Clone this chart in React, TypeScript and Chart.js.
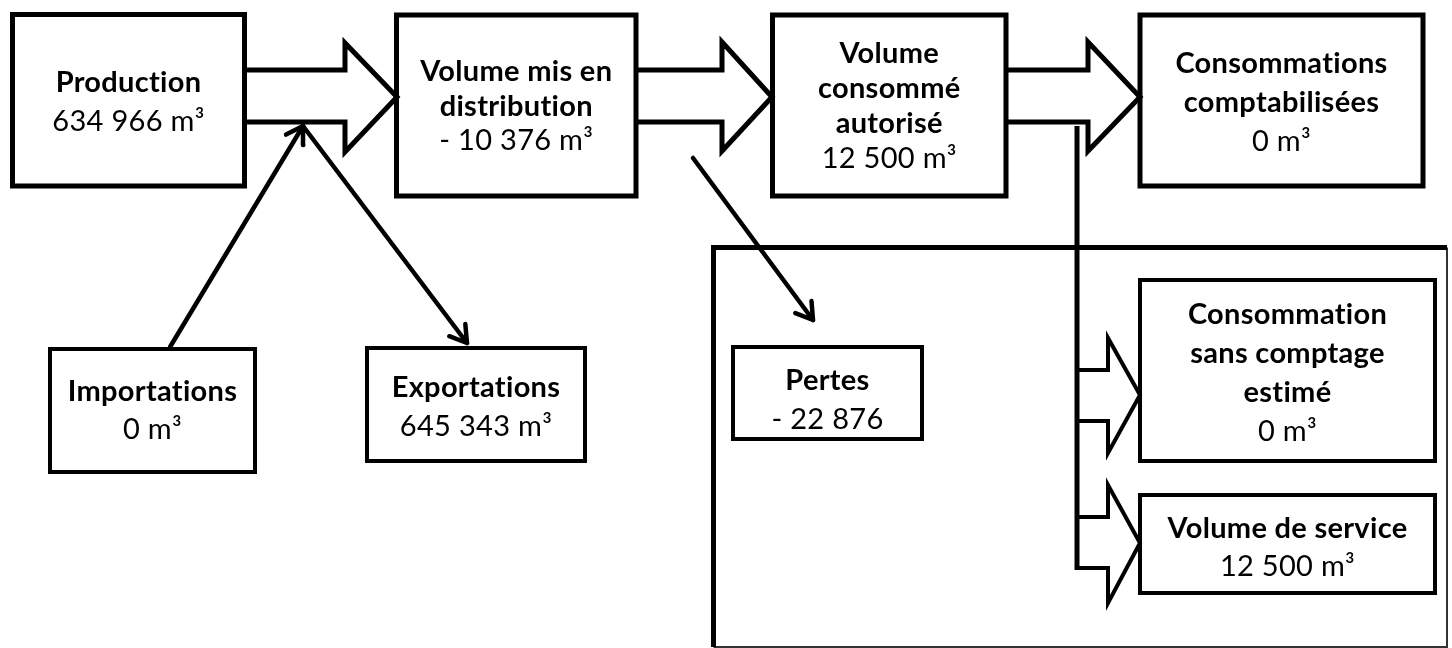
import { useEffect, useRef } from "react";
import { Chart, registerables } from "chart.js";

Chart.register(...registerables);

// ---- Data ----
const nodeTitles: string[][] = [
  ["Production"],
  ["Volume mis en", "distribution"],
  ["Volume", "consommé", "autorisé"],
  ["Consommations", "comptabilisées"],
  ["Consommation", "sans comptage", "estimé"],
  ["Volume de service"],
  ["Pertes"],
  ["Importations"],
  ["Exportations"],
];
const nodeValues: number[] = [634966, -10376, 12500, 0, 0, 12500, -22876, 0, 645343];
const nodeUnits: string[] = ["m³", "m³", "m³", "m³", "m³", "m³", "", "m³", "m³"];

// ---- Layout (diagram coordinates, mapped through the chart scales) ----
const W = 1452;
const H = 648;
type Box = { x0: number; y0: number; x1: number; y1: number; lw: number; cy: number; lh: number };
const boxLayout: Box[] = [
  { x0: 12.5, y0: 14.5, x1: 244.5, y1: 186, lw: 5, cy: 101.5, lh: 39 },
  { x0: 396.5, y0: 15, x1: 636, y1: 196, lw: 5, cy: 105.5, lh: 34.5 },
  { x0: 772.5, y0: 15, x1: 1006, y1: 196, lw: 5, cy: 105.5, lh: 35 },
  { x0: 1140, y0: 15, x1: 1423, y1: 186, lw: 5, cy: 102, lh: 39 },
  { x0: 1140, y0: 280, x1: 1435, y1: 461, lw: 4, cy: 372.5, lh: 39 },
  { x0: 1140, y0: 495, x1: 1435, y1: 593, lw: 4, cy: 547, lh: 38.5 },
  { x0: 733, y0: 347, x1: 922, y1: 439, lw: 4, cy: 399.5, lh: 39 },
  { x0: 50, y0: 349, x1: 255, y1: 472, lw: 4, cy: 410, lh: 38 },
  { x0: 367, y0: 348, x1: 585, y1: 461, lw: 4, cy: 406.5, lh: 38.5 },
];

type BigArrow = { x0: number; xh: number; tip: number; yc: number; st: number; sb: number; ht: number; hb: number; lw: number };
const bigArrows: BigArrow[] = [
  { x0: 245, xh: 345, tip: 397, yc: 97, st: 70, sb: 122, ht: 43, hb: 152, lw: 5 },
  { x0: 636, xh: 722, tip: 772, yc: 97, st: 70, sb: 122, ht: 42, hb: 151, lw: 5 },
  { x0: 1006, xh: 1088, tip: 1140, yc: 97, st: 70, sb: 122, ht: 42, hb: 151, lw: 5 },
  { x0: 1077, xh: 1108, tip: 1140, yc: 395, st: 370, sb: 421, ht: 338, hb: 453, lw: 4 },
  { x0: 1077, xh: 1108, tip: 1140, yc: 543, st: 517, sb: 568, ht: 485, hb: 603, lw: 4 },
];

const connector: [number, number][] = [[1077, 126], [1077, 570]];

const thinArrows: { from: [number, number]; to: [number, number] }[] = [
  { from: [170, 347], to: [303, 126] },
  { from: [303, 126], to: [467, 343] },
  { from: [693, 158], to: [813, 320] },
];

function fmt(v: number, unit: string): string {
  const abs = Math.abs(v).toString().replace(/\B(?=(\d{3})+(?!\d))/g, " ");
  return (v < 0 ? "- " : "") + abs + (unit ? " " + unit : "");
}

function lineDs(pts: [number, number][], w: number, color = "#000", join = "miter", cap = "butt") {
  return {
    data: pts.map(([x, y]) => ({ x, y })),
    showLine: true,
    borderColor: color,
    backgroundColor: color,
    borderWidth: w,
    pointRadius: 0,
    pointHoverRadius: 0,
    fill: false,
    tension: 0,
    borderJoinStyle: join,
    borderCapStyle: cap,
    clip: false,
  } as any;
}

function buildDatasets() {
  const ds: any[] = [];
  // outer frame
  ds.push(lineDs([[713.5, 647], [713.5, 247.5], [1447, 247.5]], 5));
  ds.push(lineDs([[1447, 247.5], [1447, 647], [713.5, 647]], 2, "#333"));
  // boxes
  boxLayout.forEach((b) => {
    ds.push(
      lineDs(
        [[b.x0, b.y0], [b.x1, b.y0], [b.x1, b.y1], [b.x0, b.y1], [b.x0, b.y0], [b.x1, b.y0]],
        b.lw
      )
    );
  });
  // block arrows
  bigArrows.forEach((a) => {
    ds.push(
      lineDs(
        [[a.x0, a.st], [a.xh, a.st], [a.xh, a.ht], [a.tip, a.yc], [a.xh, a.hb], [a.xh, a.sb], [a.x0, a.sb]],
        a.lw
      )
    );
  });
  ds.push(lineDs(connector, 5));
  // thin arrows
  thinArrows.forEach(({ from, to }) => {
    ds.push(lineDs([from, to], 4.5, "#000", "round", "round"));
    const ang = Math.atan2(to[1] - from[1], to[0] - from[0]);
    const len = 19;
    const spread = (32 * Math.PI) / 180;
    const w1: [number, number] = [to[0] - len * Math.cos(ang - spread), to[1] - len * Math.sin(ang - spread)];
    const w2: [number, number] = [to[0] - len * Math.cos(ang + spread), to[1] - len * Math.sin(ang + spread)];
    ds.push(lineDs([w1, to, w2], 4.5, "#000", "round", "round"));
  });
  return ds;
}

const textPlugin = {
  id: "boxText",
  afterDatasetsDraw(chart: any) {
    const { ctx, scales } = chart;
    const xs = scales.x;
    const ys = scales.y;
    ctx.save();
    ctx.fillStyle = "#000";
    ctx.textAlign = "center";
    ctx.textBaseline = "alphabetic";
    try {
      (ctx as any).letterSpacing = "0.3px";
    } catch (e) {
      /* ignore */
    }
    boxLayout.forEach((b, i) => {
      const lines = [...nodeTitles[i], fmt(nodeValues[i], nodeUnits[i])];
      const n = lines.length;
      const cx = (b.x0 + b.x1) / 2;
      lines.forEach((t, k) => {
        const capCenter = b.cy - ((n - 1) * b.lh) / 2 + k * b.lh;
        const isValue = k === n - 1;
        ctx.font = (isValue ? "400 " : "700 ") + "29px Lato";
        ctx.fillText(t, xs.getPixelForValue(cx), ys.getPixelForValue(capCenter + 10));
      });
    });
    ctx.restore();
  },
};

export default function App() {
  const ref = useRef<HTMLCanvasElement | null>(null);
  useEffect(() => {
    document.body.style.margin = "0";
    document.body.style.background = "#fff";
    if (!ref.current) return;
    const chart = new Chart(ref.current, {
      type: "scatter",
      data: { datasets: buildDatasets() },
      options: {
        animation: false,
        responsive: false,
        devicePixelRatio: 1,
        events: [],
        layout: { padding: 0 },
        plugins: { legend: { display: false }, tooltip: { enabled: false } },
        scales: {
          x: { type: "linear", min: 0, max: W, display: false },
          y: { type: "linear", min: 0, max: H, reverse: true, display: false },
        },
      },
      plugins: [textPlugin],
    });
    return () => chart.destroy();
  }, []);
  return (
    <div style={{ position: "fixed", left: 0, top: 0, width: W, height: H, background: "#fff" }}>
      <canvas ref={ref} width={W} height={H} style={{ display: "block" }} />
    </div>
  );
}
